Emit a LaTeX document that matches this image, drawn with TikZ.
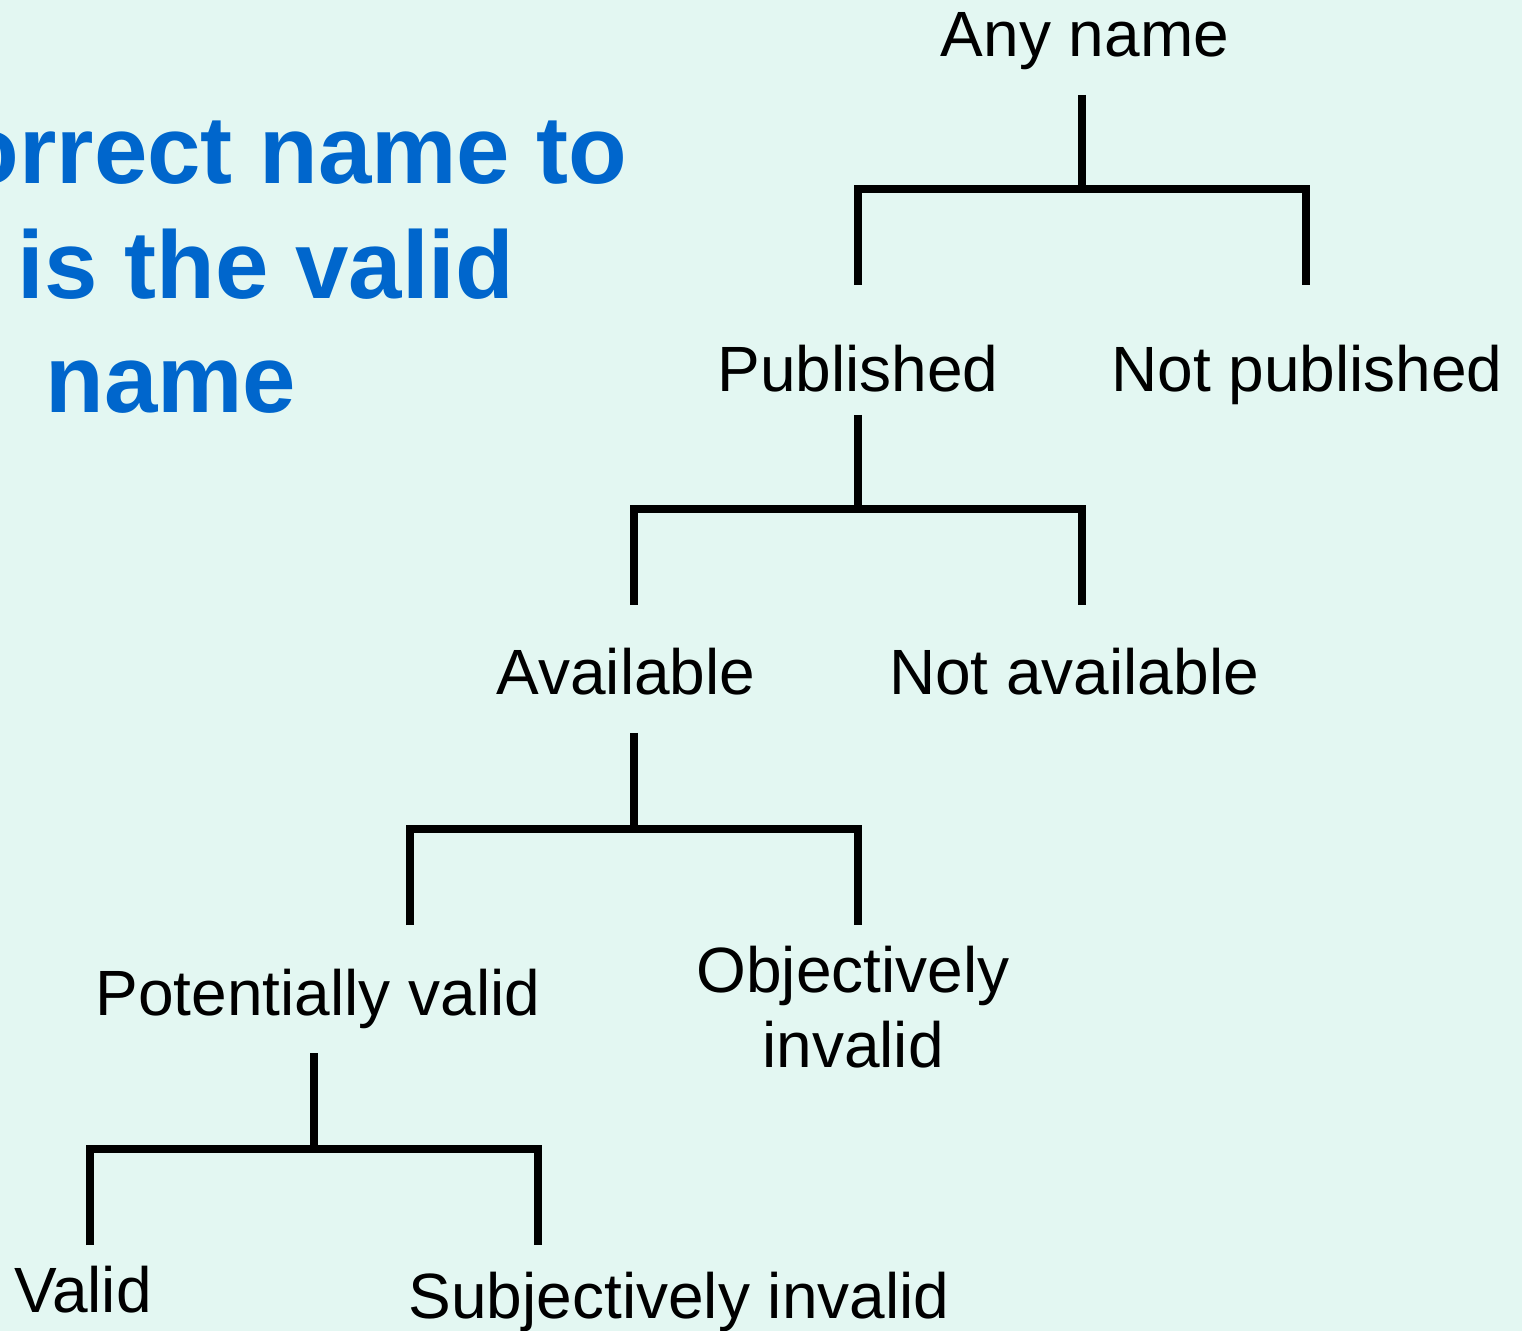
\documentclass[tikz,border=0pt]{standalone}
\usepackage{fontspec}
\setmainfont{Liberation Sans}
\definecolor{bgc}{HTML}{E3F7F2}
\definecolor{bluec}{HTML}{0066CC}
\begin{document}
\begin{tikzpicture}[x=0.5pt,y=-0.5pt,
  lbl/.style={inner sep=0pt,anchor=base,font=\fontsize{32}{37.5}\selectfont,text=black},
  ttl/.style={inner sep=0pt,anchor=base,font=\fontsize{48}{57}\selectfont\bfseries,text=bluec},
  tree/.style={line width=4pt,draw=black,line join=miter}]
\fill[bgc] (0,0) rectangle (1522,1331);
\useasboundingbox (0,0) rectangle (1522,1331);
% title text
\node[ttl,anchor=base east] (t1) at (628,184) {orrect name to};
\node[ttl] (t2) at (266,299) {is the valid};
\node[ttl] (t3) at (171,413) {name};
% labels
\node[lbl] (any) at (1085,57) {Any name};
\node[lbl] (pub) at (858,392) {Published};
\node[lbl] (npub) at (1307,392) {Not published};
\node[lbl] (avail) at (626,695) {Available};
\node[lbl] (navail) at (1074,695) {Not available};
\node[lbl] (pot) at (318,1015) {Potentially valid};
\node[lbl,align=center] (obj) at (853,1067) {Objectively\\invalid};
\node[lbl] (valid) at (83,1312) {Valid};
\node[lbl] (subj) at (679,1318) {Subjectively invalid};
% tree coordinates
\coordinate (s1a) at (1082,95);  \coordinate (s1b) at (1082,189);
\coordinate (b1l) at (858,285);  \coordinate (b1r) at (1306,285);
\coordinate (s2a) at (858,415);  \coordinate (s2b) at (858,509);
\coordinate (b2l) at (634,605);  \coordinate (b2r) at (1082,605);
\coordinate (s3a) at (634,733);  \coordinate (s3b) at (634,829);
\coordinate (b3l) at (410,925);  \coordinate (b3r) at (858,925);
\coordinate (s4a) at (314,1053); \coordinate (s4b) at (314,1149);
\coordinate (b4l) at (90,1245);  \coordinate (b4r) at (538,1245);
% connectors
\draw[tree] (s1a) -- (s1b);
\draw[tree] (b1l) -- (b1l |- s1b) -- (b1r |- s1b) -- (b1r);
\draw[tree] (s2a) -- (s2b);
\draw[tree] (b2l) -- (b2l |- s2b) -- (b2r |- s2b) -- (b2r);
\draw[tree] (s3a) -- (s3b);
\draw[tree] (b3l) -- (b3l |- s3b) -- (b3r |- s3b) -- (b3r);
\draw[tree] (s4a) -- (s4b);
\draw[tree] (b4l) -- (b4l |- s4b) -- (b4r |- s4b) -- (b4r);
\end{tikzpicture}
\end{document}
